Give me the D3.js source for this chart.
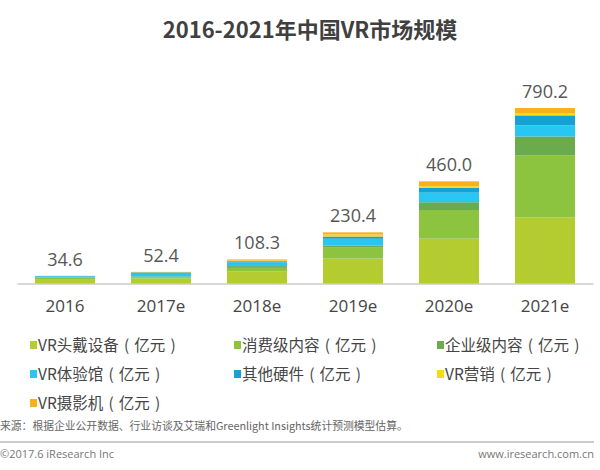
<!DOCTYPE html>
<html><head><meta charset="utf-8">
<script src="https://cdn.jsdelivr.net/npm/d3@7"></script>
<style>
html,body{margin:0;padding:0;background:#fff;}
svg{display:block;}
</style></head>
<body>
<svg id="chart" width="600" height="470"></svg>
<script>
const years = ["2016","2017e","2018e","2019e","2020e","2021e"];
const totals = [34.6, 52.4, 108.3, 230.4, 460.0, 790.2];
const seriesNames = ["VR头戴设备","消费级内容","企业级内容","VR体验馆","其他硬件","VR营销","VR摄影机"];
const unitLabel = "亿元";
const headset   = [20, 22, 55.3, 112.4, 202, 298];
const consumer  = [6, 6, 15, 49, 129, 278];
const enterprise= [2, 4, 8, 10, 35, 86];
const arcade    = [4, 12, 16, 30, 43, 50];
const otherHw   = [2, 6, 6, 10, 21, 45];
const marketing = [0.3, 1, 3, 9, 8, 9.2];
const camera    = [0.3, 1.4, 5, 10, 22, 24];
const colors = ["#b5cc30","#8cc43f","#6aab4e","#27c6f3","#12a3d4","#f7d916","#f6b11c"];

const seriesVals = [headset, consumer, enterprise, arcade, otherHw, marketing, camera];
const keys = seriesNames;
const table = years.map((y,i)=>{const o={year:y}; keys.forEach((k,j)=>o[k]=seriesVals[j][i]); return o;});
const stack = d3.stack().keys(keys)(table);

const svg = d3.select("#chart");
const font = "'Open Sans','Noto Sans CJK SC',sans-serif";
const cjk = "'Noto Sans CJK SC','Open Sans',sans-serif";

svg.append("text").attr("x",310).attr("y",38).attr("text-anchor","middle")
  .attr("font-family",cjk).attr("font-weight","bold").attr("font-size",22).attr("fill","#404040")
  .text("2016-2021年中国VR市场规模");

const x = d3.scaleBand().domain(years).range([17,593]).paddingInner(0.375).paddingOuter(0.1875);
const y = d3.scaleLinear().domain([0,790.2]).range([283.5,108]);

svg.append("g").selectAll("g").data(stack).join("g").attr("fill",(d,i)=>colors[i])
  .selectAll("rect").data(d=>d).join("rect")
  .attr("x",d=>x(d.data.year)).attr("width",x.bandwidth())
  .attr("y",d=>y(d[1])).attr("height",d=>Math.max(0,y(d[0])-y(d[1])));

const ax = svg.append("g").attr("transform","translate(0,283.5)")
  .call(d3.axisBottom(x).tickSize(0).tickPadding(16));
ax.select(".domain").attr("stroke","#b0b0b0");
ax.selectAll("text").attr("font-family",font).attr("font-size",17).attr("fill","#454545");

svg.append("g").selectAll("text").data(years).join("text")
  .attr("x",d=>x(d)+x.bandwidth()/2).attr("y",(d,i)=>y(totals[i])-10)
  .attr("text-anchor","middle").attr("font-family",font).attr("font-size",18).attr("fill","#575757")
  .text((d,i)=>totals[i].toFixed(1));

const colX = [30, 234, 437];
const leg = svg.append("g").selectAll("g").data(seriesNames).join("g")
  .attr("transform",(d,i)=>`translate(${colX[i%3]},${345+Math.floor(i/3)*29})`);
leg.append("rect").attr("x",0).attr("y",-4).attr("width",7).attr("height",8).attr("fill",(d,i)=>colors[i]);
leg.append("text").attr("x",8).attr("y",6).attr("font-family",cjk).attr("font-size",15.5).attr("fill","#454545")
  .text(d=>d+"\u2004(\u2004"+unitLabel+"\u2004)");

svg.append("text").attr("x",0).attr("y",430).attr("font-family",cjk).attr("font-size",10.8).attr("fill","#666")
  .text("来源：根据企业公开数据、行业访谈及艾瑞和Greenlight Insights统计预测模型估算。");
svg.append("line").attr("x1",0).attr("x2",594).attr("y1",442).attr("y2",442).attr("stroke","#999").attr("stroke-width",1);
svg.append("text").attr("x",0).attr("y",458).attr("font-family",font).attr("font-size",11).attr("fill","#777")
  .text("©2017.6 iResearch Inc");
svg.append("text").attr("x",594).attr("y",458).attr("text-anchor","end").attr("font-family",font).attr("font-size",11).attr("fill","#777")
  .text("www.iresearch.com.cn");
</script>
</body></html>
